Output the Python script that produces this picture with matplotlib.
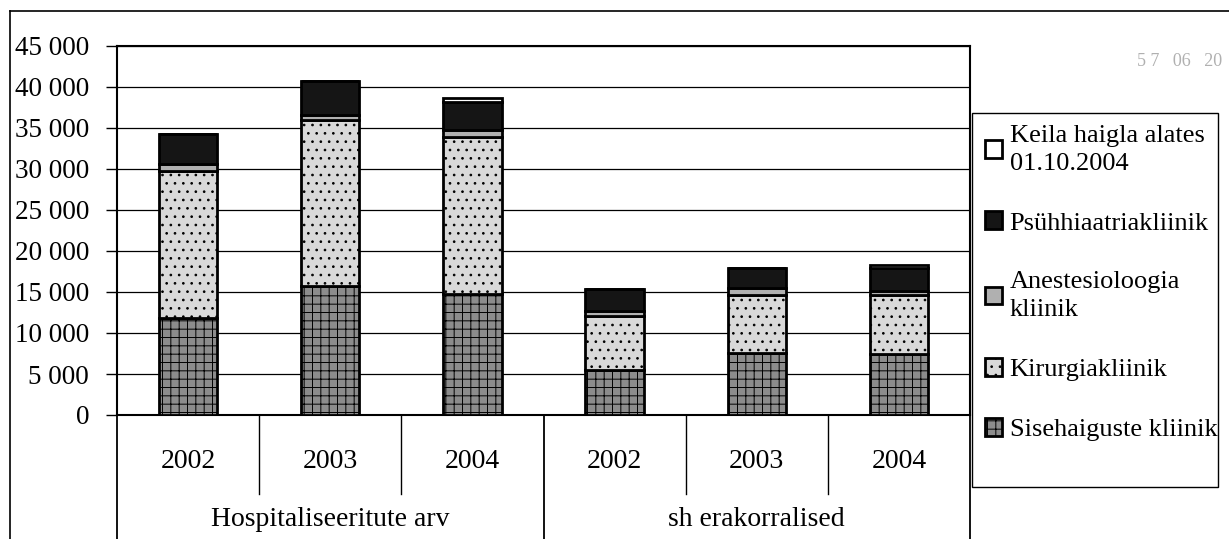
import numpy as np
import matplotlib
matplotlib.use("Agg")
import matplotlib.pyplot as plt
from matplotlib.lines import Line2D
from matplotlib.patches import Rectangle
from matplotlib.ticker import FuncFormatter

plt.rcParams['font.family'] = ['Liberation Serif', 'DejaVu Serif']
plt.rcParams['hatch.linewidth'] = 0.7

# data
years = ['2002', '2003', '2004', '2002', '2003', '2004']
groups = ['Hospitaliseeritute arv', 'sh erakorralised']
sise = [11800, 15700, 14700, 5500, 7600, 7500]
kirurgia = [18000, 20300, 19200, 6600, 7000, 7100]
anest = [800, 600, 800, 600, 900, 500]
psyh = [3700, 4100, 3500, 2700, 2400, 2800]
keila = [0, 0, 500, 0, 0, 400]

series = [
    ('Sisehaiguste kliinik', sise, '#8c8c8c', '++'),
    ('Kirurgiakliinik', kirurgia, '#d9d9d9', '..'),
    ('Anestesioloogia\nkliinik', anest, '#b0b0b0', None),
    ('Psühhiaatriakliinik', psyh, '#151515', None),
    ('Keila haigla alates\n01.10.2004', keila, 'white', None),
]

W, H = 1229, 539
fig = plt.figure(figsize=(W / 100, H / 100), dpi=100)
ax = fig.add_axes([117 / W, 1 - 415 / H, (970 - 117) / W, (415 - 46) / H])

x = np.arange(len(years))
bottom = np.zeros(len(years))
handles = []
for name, vals, col, hatch in series:
    vals = np.array(vals, dtype=float)
    b = ax.bar(x, vals, width=0.41, bottom=bottom, color=col, edgecolor='black',
               linewidth=2, hatch=hatch, label=name, zorder=3)
    handles.append(b)
    bottom += vals

ax.set_xlim(-0.5, 5.5)
ax.set_ylim(0, 45000)
ax.set_yticks(np.arange(0, 45001, 5000))
ax.yaxis.set_major_formatter(FuncFormatter(lambda v, p: f"{int(v):,}".replace(',', ' ')))
ax.tick_params(axis='y', direction='out', length=8, width=1, pad=12, labelsize=19.5)
ax.set_xticks([])
ax.yaxis.grid(True, color='black', linewidth=0.9)
ax.set_axisbelow(True)
for s in ax.spines.values():
    s.set_linewidth(1.5)
    s.set_color('black')

# category table under the plot
tr = ax.get_xaxis_transform()
for i, yr in enumerate(years):
    ax.text(i, -0.125, yr, transform=tr, ha='center', va='center', fontsize=20)
for j, g in enumerate(groups):
    ax.text(3 * j + 1, -0.283, g, transform=tr, ha='center', va='center', fontsize=20)
for xb in [0.5, 1.5, 3.5, 4.5]:
    ax.plot([xb, xb], [0, -0.215], transform=tr, color='black', lw=1, clip_on=False)
for xb in [-0.5, 2.5, 5.5]:
    ax.plot([xb, xb], [0, -0.34], transform=tr, color='black', lw=1.3, clip_on=False)

# legend in its own box
fig.add_artist(Rectangle((972 / W, 1 - 487 / H), (1218 - 972) / W, (487 - 113) / H,
                         transform=fig.transFigure, fill=False, edgecolor='black', lw=1))
leg = fig.legend(handles[::-1], [h.get_label() for h in handles[::-1]], loc='upper left',
                 bbox_to_anchor=(974 / W, 1 - 114 / H), frameon=False, fontsize=19,
                 handlelength=0.65, handleheight=0.65, handletextpad=0.3,
                 labelspacing=1.4, borderaxespad=0)
for t in leg.get_texts():
    t.set_linespacing(1.35)

# outer frame of the scanned page
fig.add_artist(Line2D([10 / W, 10 / W], [0, 1 - 11 / H], transform=fig.transFigure,
                      color='black', lw=1.2))
fig.add_artist(Line2D([10 / W, 1], [1 - 11 / H, 1 - 11 / H], transform=fig.transFigure,
                      color='black', lw=1.2))
fig.text(1222 / W, 1 - 62 / H, '5 7   06   20', ha='right', va='center', fontsize=13,
         color='#b0b0b0')

fig.savefig('out.png', dpi=100)
